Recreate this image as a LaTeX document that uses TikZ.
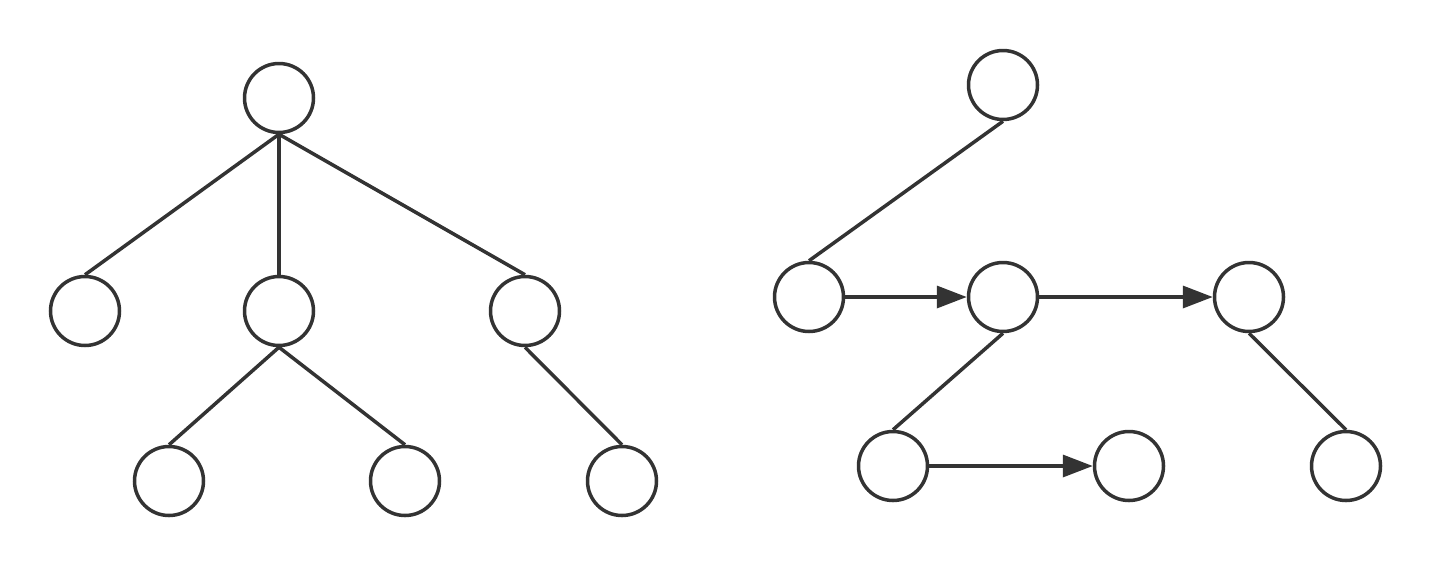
\documentclass[tikz,border=0pt]{standalone}
\usetikzlibrary{arrows.meta}
\definecolor{ink}{HTML}{333333}
\begin{document}
\begin{tikzpicture}[x=1pt,y=-1pt,
  vertex/.style={circle,draw=ink,line width=3.5pt,minimum size=69pt,inner sep=0pt,fill=white},
  edge/.style={draw=ink,line width=3.5pt},
  arr/.style={edge,-{Triangle[length=30pt,width=22pt]}}]
\useasboundingbox (0,0) rectangle (1432,566);
% left tree
\node[vertex] (r) at (279,98) {};
\node[vertex] (c1) at (85,311) {};
\node[vertex] (c2) at (279,311) {};
\node[vertex] (c3) at (525,311) {};
\node[vertex] (g1) at (169,481) {};
\node[vertex] (g2) at (405,481) {};
\node[vertex] (g3) at (622,481) {};
\draw[edge] (r.south) -- (c1.north);
\draw[edge] (r.south) -- (c2.north);
\draw[edge] (r.south) -- (c3.north);
\draw[edge] (c2.south) -- (g1.north);
\draw[edge] (c2.south) -- (g2.north);
\draw[edge] (c3.south) -- (g3.north);
% right tree
\node[vertex] (t) at (1003,85) {};
\node[vertex] (a) at (809,297) {};
\node[vertex] (b) at (1003,297) {};
\node[vertex] (c) at (1249,297) {};
\node[vertex] (d) at (893,466) {};
\node[vertex] (e) at (1129,466) {};
\node[vertex] (f) at (1346,466) {};
\draw[edge] (t.south) -- (a.north);
\draw[arr] (a.east) -- (b.west);
\draw[arr] (b.east) -- (c.west);
\draw[edge] (b.south) -- (d.north);
\draw[arr] (d.east) -- (e.west);
\draw[edge] (c.south) -- (f.north);
\end{tikzpicture}
\end{document}
